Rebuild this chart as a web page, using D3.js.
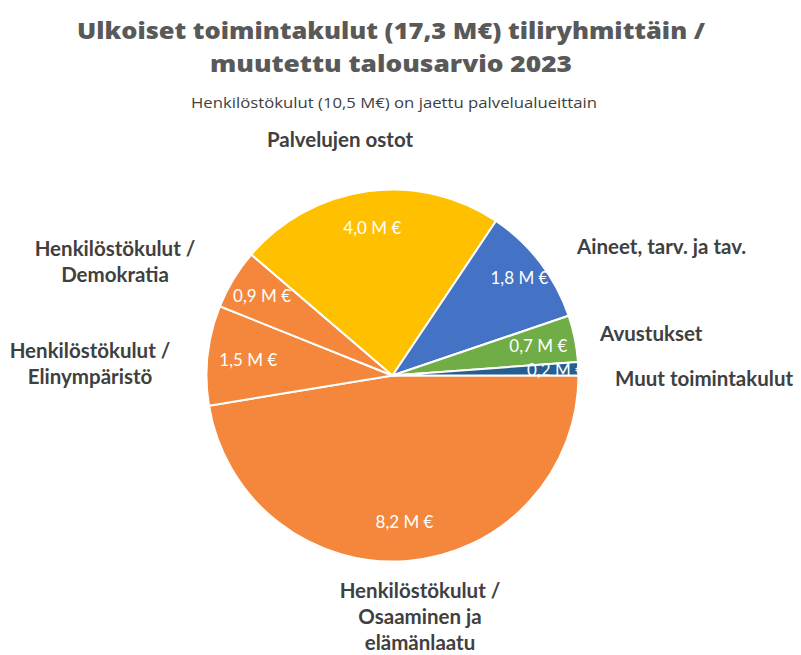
<!DOCTYPE html>
<html><head><meta charset="utf-8">
<script src="https://cdn.jsdelivr.net/npm/d3@7"></script>
<style>body{margin:0;background:#fff}svg{display:block}</style>
</head><body>
<svg id="c" width="801" height="655"></svg>
<script>
// Data (drawn clockwise from 3 o'clock)
const categories = ["Henkilöstökulut / Osaaminen ja elämänlaatu","Henkilöstökulut / Elinympäristö","Henkilöstökulut / Demokratia","Palvelujen ostot","Aineet, tarv. ja tav.","Avustukset","Muut toimintakulut"];
const values = [8.2, 1.5, 0.9, 4.0, 1.8, 0.7, 0.2];
const valueLabels = ["8,2 M €","1,5 M €","0,9 M €","4,0 M €","1,8 M €","0,7 M €","0,2 M €"];
const colors = ["#F4873B","#F4873B","#F4873B","#FFC000","#4472C4","#70AD47","#255E91"];
const titleLines = ["Ulkoiset toimintakulut (17,3 M€) tiliryhmittäin /","muutettu talousarvio 2023"];
const subtitle = "Henkilöstökulut (10,5 M€) on jaettu palvelualueittain";

const svg = d3.select("#c");
const cx = 392.5, cy = 375.5, R = 186;

const titleW = [628, 362];
svg.selectAll("text.title").data(titleLines).enter().append("text")
  .attr("x", 391).attr("y", (d,i)=>39+i*33)
  .attr("text-anchor","middle")
  .attr("textLength",(d,i)=>titleW[i]).attr("lengthAdjust","spacingAndGlyphs")
  .style("font-family","'Open Sans', sans-serif").style("font-weight","800")
  .style("font-size","23px").style("fill","#595959").text(d=>d);
svg.append("text").attr("x",394).attr("y",108).attr("text-anchor","middle")
  .attr("textLength",406).attr("lengthAdjust","spacingAndGlyphs")
  .style("font-family","'Open Sans', sans-serif").style("font-size","14px").style("fill","#404040").text(subtitle);

const pie = d3.pie().sort(null).startAngle(Math.PI/2).endAngle(Math.PI/2+2*Math.PI);
const arcs = pie(values);
const arc = d3.arc().innerRadius(0).outerRadius(R);
const g = svg.append("g").attr("transform",`translate(${cx},${cy})`);
g.selectAll("path").data(arcs).enter().append("path")
  .attr("d",arc).attr("fill",(d,i)=>colors[i])
  .attr("stroke","#fff").attr("stroke-width",2).attr("stroke-linejoin","round");

const labelR = [0.79,0.78,0.82,0.80,0.86,0.80,0.88];
g.selectAll("text.v").data(arcs).enter().append("text")
  .attr("transform",(d,i)=>{const a=d3.arc().innerRadius(R*labelR[i]).outerRadius(R*labelR[i]);const c=a.centroid(d);return `translate(${c[0]},${c[1]})`;})
  .attr("text-anchor","middle").attr("dy","0.35em")
  .style("font-family","Lato, sans-serif").style("font-size","17px").style("fill","#fff")
  .text((d,i)=>valueLabels[i]);

// Category labels (outside)
const catPos = [
  {x:420,y:598,anchor:"middle",lines:["Henkilöstökulut /","Osaaminen ja","elämänlaatu"]},
  {x:90,y:358,anchor:"middle",lines:["Henkilöstökulut /","Elinympäristö"]},
  {x:115,y:256,anchor:"middle",lines:["Henkilöstökulut /","Demokratia"]},
  {x:340,y:147,anchor:"middle",lines:["Palvelujen ostot"]},
  {x:577,y:254,anchor:"start",lines:["Aineet, tarv. ja tav."]},
  {x:600,y:341,anchor:"start",lines:["Avustukset"]},
  {x:615,y:386,anchor:"start",lines:["Muut toimintakulut"]}
];
catPos.forEach(p=>{
  const t = svg.append("text").attr("text-anchor",p.anchor)
    .style("font-family","Lato, sans-serif").style("font-weight","700")
    .style("font-size","20.5px").style("fill","#404040");
  p.lines.forEach((l,i)=>t.append("tspan").attr("x",p.x).attr("y",p.y+i*26).text(l));
});
</script>
</body></html>
